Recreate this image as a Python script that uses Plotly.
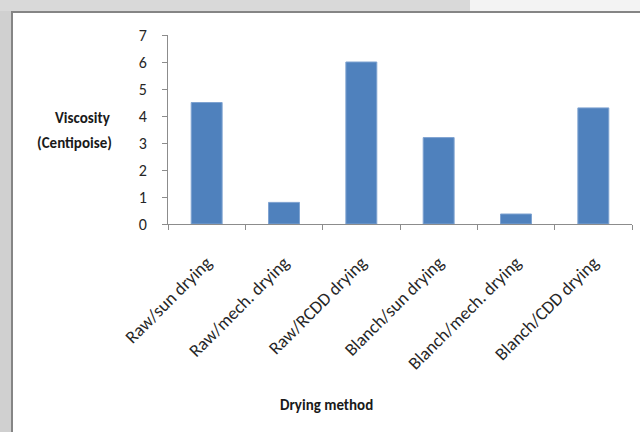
import plotly.graph_objects as go

categories = ["Raw/sun drying", "Raw/mech. drying", "Raw/RCDD drying",
              "Blanch/sun drying", "Blanch/mech. drying", "Blanch/CDD drying"]
viscosity = [4.5, 0.8, 6.0, 3.2, 0.37, 4.3]
y_ticks = [0, 1, 2, 3, 4, 5, 6, 7]

FONT = "Carlito, Calibri, Lato, sans-serif"

fig = go.Figure(go.Bar(
    x=categories, y=viscosity,
    marker=dict(color="#4F81BD", line=dict(color="#7FA3D1", width=1)),
    width=0.4,
))

W, H = 640, 432
L, R, T, B = 168, 8, 35, 208
pw, ph = W - L - R, H - T - B

def px(x):
    return (x - L) / pw

def py(y):
    return (H - B - y) / ph

shapes = [
    dict(type="rect", xref="paper", yref="paper", x0=px(0), x1=px(470), y0=py(11), y1=py(0),
         fillcolor="#d9d9d9", line_width=0, layer="above"),
    dict(type="rect", xref="paper", yref="paper", x0=px(470), x1=px(640), y0=py(11), y1=py(0),
         fillcolor="#f3f3f3", line_width=0, layer="above"),
    dict(type="rect", xref="paper", yref="paper", x0=px(0), x1=px(11), y0=py(432), y1=py(11),
         fillcolor="#d0d0d0", line_width=0, layer="above"),
    dict(type="line", xref="paper", yref="paper", x0=px(11), x1=px(640), y0=py(12), y1=py(12),
         line=dict(color="#858585", width=2)),
    dict(type="line", xref="paper", yref="paper", x0=px(12), x1=px(12), y0=py(11), y1=py(432),
         line=dict(color="#858585", width=2)),
]

fig.update_layout(
    width=W, height=H,
    margin=dict(l=L, r=R, t=T, b=B, pad=0),
    paper_bgcolor="white", plot_bgcolor="white",
    showlegend=False,
    font=dict(family=FONT, size=16, color="#262626"),
    shapes=shapes,
    bargap=0.6,
    xaxis=dict(
        showgrid=False, showline=True, linecolor="#8c8c8c", linewidth=1,
        ticks="outside", ticklen=5, tickcolor="#8c8c8c", tickson="boundaries",
        tickangle=-45, ticklabelstandoff=20,
        tickfont=dict(family=FONT, size=18, color="#262626"),
    ),
    yaxis=dict(
        range=[0, 7], tickvals=y_ticks, showgrid=False, zeroline=False,
        showline=True, linecolor="#8c8c8c", linewidth=1,
        ticks="outside", ticklen=5, tickcolor="#8c8c8c", ticklabelstandoff=12,
        tickfont=dict(family=FONT, size=16, color="#262626"),
    ),
    annotations=[
        dict(text="<b>Viscosity</b>", xref="paper", yref="paper",
             x=px(113), y=py(118), xanchor="right", yanchor="middle",
             showarrow=False, font=dict(family=FONT, size=15, color="#1a1a1a")),
        dict(text="<b>(Centipoise)</b>", xref="paper", yref="paper",
             x=px(114), y=py(143), xanchor="right", yanchor="middle",
             showarrow=False, font=dict(family=FONT, size=15, color="#1a1a1a")),
        dict(text="<b>Drying method</b>", xref="paper", yref="paper",
             x=px(326), y=py(405), xanchor="center", yanchor="middle",
             showarrow=False, font=dict(family=FONT, size=15, color="#1a1a1a")),
    ],
)

fig.write_html("out.html", config={"displayModeBar": False},
               post_script="document.body.style.margin='0';")
